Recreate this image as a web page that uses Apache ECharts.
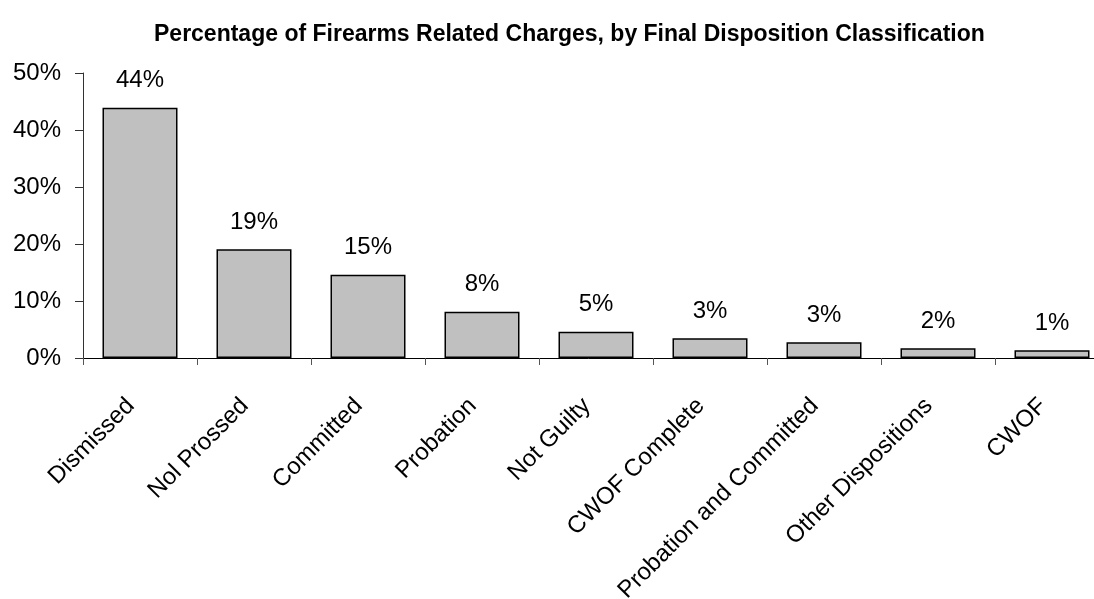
<!DOCTYPE html>
<html>
<head>
<meta charset="utf-8">
<script src="https://cdn.jsdelivr.net/npm/echarts@6/dist/echarts.min.js"></script>
<style>
html,body{margin:0;padding:0;background:#fff;}
#chart{width:1094px;height:599px;}
</style>
</head>
<body>
<div id="chart"></div>
<script>
const titleText = 'Percentage of Firearms Related Charges, by Final Disposition Classification';
const categories = ['Dismissed','Nol Prossed','Committed','Probation','Not Guilty','CWOF Complete','Probation and Committed','Other Dispositions','CWOF'];
const percentValues = [43.9, 19.1, 14.6, 8.1, 4.6, 3.45, 2.75, 1.7, 1.35];
const yTicks = [0, 10, 20, 30, 40, 50];

const font = '"Liberation Sans", Arial, sans-serif';
const chart = echarts.init(document.getElementById('chart'), null, {renderer: 'canvas'});
chart.setOption({
  animation: false,
  backgroundColor: '#ffffff',
  title: {
    text: titleText,
    left: 149,
    top: 18,
    textStyle: {fontFamily: font, fontSize: 23, fontWeight: 'bold', color: '#000'}
  },
  grid: {left: 83, right: -15, top: 73, bottom: 241, containLabel: false, outerBoundsMode: 'none'},
  xAxis: {
    type: 'category',
    data: categories,
    axisLine: {lineStyle: {color: '#000', width: 1}},
    axisTick: {show: true, alignWithLabel: false, length: 7, lineStyle: {color: '#555'}},
    axisLabel: {
      rotate: 45, interval: 0, margin: 35,
      padding: [0, 13, 0, 0],
      fontFamily: font, fontSize: 24, color: '#000'
    }
  },
  yAxis: {
    type: 'value',
    min: yTicks[0], max: yTicks[yTicks.length - 1], interval: 10,
    splitLine: {show: false},
    axisLine: {show: true, lineStyle: {color: '#333', width: 1}},
    axisTick: {show: true, length: 8, lineStyle: {color: '#333'}},
    axisLabel: {
      margin: 22, fontFamily: font, fontSize: 24, color: '#000',
      formatter: v => v + '%'
    }
  },
  series: [{
    type: 'bar',
    data: percentValues,
    barWidth: 75,
    itemStyle: {color: '#c0c0c0', borderColor: '#000', borderWidth: 1.5},
    label: {
      show: true, position: 'top', distance: 15,
      fontFamily: font, fontSize: 24, color: '#000',
      formatter: p => Math.round(p.value) + '%'
    }
  }]
});
</script>
</body>
</html>
